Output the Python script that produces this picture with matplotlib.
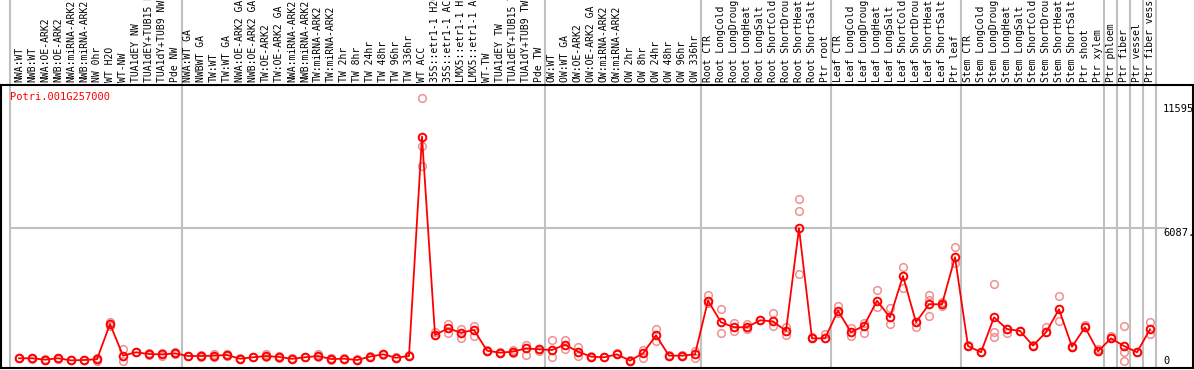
import matplotlib
matplotlib.use("Agg")
import matplotlib.pyplot as plt

# sample labels, left to right
labels = [
    "NWA:WT", "NWB:WT", "NWA:OE-ARK2", "NWB:OE-ARK2", "NWA:miRNA-ARK2", "NWB:miRNA-ARK2",
    "NW 0hr", "WT H2O", "WT-NW", "TUA1dEY NW", "TUA1dEY+TUB15 NW", "TUA1dY+TUB9 NW", "Pde NW",
    "NWA:WT GA", "NWBWT GA", "TW:WT", "TW:WT GA", "NWA:OE-ARK2 GA", "NWB:OE-ARK2 GA",
    "TW:OE-ARK2", "TW:OE-ARK2 GA", "NWA:miRNA-ARK2", "NWB:miRNA-ARK2", "TW:miRNA-ARK2",
    "TW:miRNA-ARK2", "TW 2hr", "TW 8hr", "TW 24hr", "TW 48hr", "TW 96hr", "TW 336hr",
    "WT ACC", "35S::etr1-1 H2O", "35S::etr1-1 ACC", "LMX5::etr1-1 H2O", "LMX5::etr1-1 ACC",
    "WT-TW", "TUA1dEY TW", "TUA1dEY+TUB15 TW", "TUA1dY+TUB9 TW", "Pde TW",
    "OW:WT", "OW:WT GA", "OW:OE-ARK2", "OW:OE-ARK2 GA", "OW:miRNA-ARK2", "OW:miRNA-ARK2",
    "OW 2hr", "OW 8hr", "OW 24hr", "OW 48hr", "OW 96hr", "OW 336hr",
    "Root CTR", "Root LongCold", "Root LongDrought", "Root LongHeat", "Root LongSalt",
    "Root ShortCold", "Root ShortDrought", "Root ShortHeat", "Root ShortSalt", "Ptr root",
    "Leaf CTR", "Leaf LongCold", "Leaf LongDrought", "Leaf LongHeat", "Leaf LongSalt",
    "Leaf ShortCold", "Leaf ShortDrought", "Leaf ShortHeat", "Leaf ShortSalt", "Ptr leaf",
    "Stem CTR", "Stem LongCold", "Stem LongDrought", "Stem LongHeat", "Stem LongSalt",
    "Stem ShortCold", "Stem ShortDrought", "Stem ShortHeat", "Stem ShortSalt", "Ptr shoot",
    "Ptr xylem", "Ptr phloem", "Ptr fiber", "Ptr vessel", "Ptr fiber vessel",
]

# mean expression per sample
means = [
    125, 125, 60, 125, 30, 45, 80, 1700, 245, 400, 320, 300, 350,
    230, 230, 245, 275, 105, 170, 230, 185, 100, 170, 230, 90, 105, 45, 200, 305, 150, 230,
    10305, 1195, 1500, 1300, 1425, 475, 380, 430, 580, 535,
    505, 750, 430, 200, 170, 305, 15, 350, 1180, 245, 245, 305,
    2770, 1780, 1550, 1550, 1870, 1820, 1380, 6095, 1040, 1040,
    2310, 1320, 1620, 2770, 2005, 3905, 1780, 2605, 2605, 4765,
    690, 400, 2005, 1470, 1380, 705, 1320, 2375, 655, 1550, 445,
    1040, 690, 400, 1455,
]

# individual replicates per sample
reps = [
    [125, 140], [125, 110], [60, 80], [125, 100], [30, 50], [45, 60], [150, 20], [1800, 1600],
    [540, 0], [400, 420], [380, 260], [350, 240], [420, 300],
    [230, 250], [260, 200], [330, 200], [330, 230], [105, 130], [170, 200], [330, 180],
    [250, 140], [100, 150], [200, 170], [330, 200], [150, 60], [130, 100], [45, 70],
    [200, 240], [330, 290], [150, 170], [230, 260],
    [12070, 9890, 8960], [1320, 1195], [1685, 1300], [1455, 1070], [1610, 1150],
    [475, 500], [380, 400], [500, 380], [735, 260], [560, 480],
    [965, 200], [965, 565], [630, 230], [200, 230], [170, 190], [305, 350], [15, 40],
    [520, 150], [1485, 935], [245, 280], [245, 260], [470, 140],
    [3020, 2665], [2375, 1270], [1745, 1380], [1690, 1480], [1870, 1900], [2190, 1610],
    [1560, 1195], [7440, 6875, 3980], [1040, 1080], [1240, 1040],
    [2525, 2190], [1500, 1150], [1760, 1270], [3260, 2465], [2420, 1700], [4305, 3340],
    [1575, 1780], [3030, 2080, 2800], [2700, 2520], [5225, 4515],
    [690, 720], [400, 420], [3540, 1345, 1115], [1290, 1470], [1380, 1400], [705, 730],
    [1550, 1320], [2970, 1850], [655, 680], [1640, 1550], [560, 445],
    [1150, 1040], [1620, 430, 0], [400, 420], [1790, 1240],
]

group_edges = [-0.7, 12.5, 40.5, 52.5, 62.5, 72.5, 83.5, 84.5, 85.5, 86.5, 87.5]
y_marks = [0, 6087.5, 11595]
y_texts = ["0", "6087.", "11595"]
gene = "Potri.001G257000"

mono = "DejaVu Sans Mono"
fig = plt.figure(figsize=(11.94, 3.70), dpi=100)
ax = fig.add_axes([1 / 1194, 2 / 370, 1191.5 / 1194, 283 / 370])
ax.set_xlim(-1.385, 90.27)
ax.set_ylim(-322, 12679)

for s in ax.spines.values():
    s.set_linewidth(1.5)
    s.set_color("black")

# group separators run up through the label area
for e in group_edges:
    ax.axvline(e, ymin=0, ymax=1.31, color="#c0c0c0", lw=1.5, clip_on=False, zorder=1)
ax.hlines(y_marks[1], group_edges[0], 88.3, color="#c0c0c0", lw=1.5, zorder=1)

# replicates
for i, r in enumerate(reps):
    ax.plot([i] * len(r), r, "o", ms=5.5, mfc="none", mec="#f09090", mew=1.1, zorder=2)

ax.plot(range(len(means)), means, "-", color="red", lw=1.3, zorder=3)
ax.plot(range(len(means)), means, "o", ms=5.5, mfc="none", mec="red", mew=1.4, zorder=4)

ax.xaxis.tick_top()
ax.set_xticks(range(len(labels)))
ax.set_xticklabels(labels, rotation=90, family=mono, fontsize=7)
ax.tick_params(axis="x", length=0, pad=2)
ax.set_yticks([])

ax.text(88.0, y_marks[2], y_texts[2], family=mono, fontsize=7.5, va="center", ha="left")
ax.text(88.0, y_marks[1], y_texts[1], family=mono, fontsize=7.5, va="top", ha="left")
ax.text(88.0, y_marks[0], y_texts[0], family=mono, fontsize=7.5, va="center", ha="left")

ax.text(0.0076, 0.9576, gene, color="red", family=mono, fontsize=7.5,
        va="center", ha="left", transform=ax.transAxes)

fig.savefig("out.png", dpi=100)
